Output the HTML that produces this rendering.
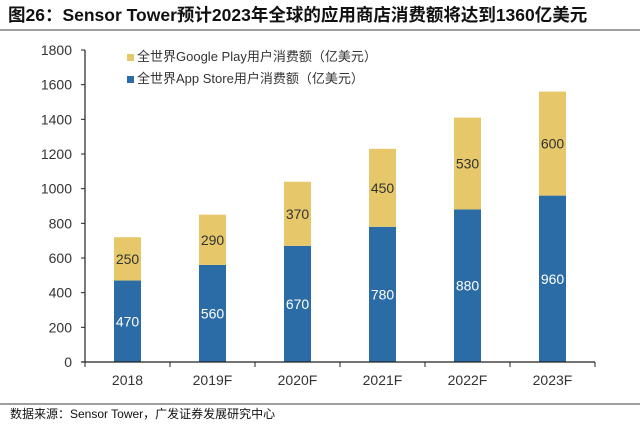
<!DOCTYPE html>
<html><head><meta charset="utf-8"><style>
html,body{margin:0;padding:0;background:#fff;}
svg{display:block;font-family:"Liberation Sans","Noto Sans CJK SC",sans-serif;}
</style></head><body>
<svg id="chart" width="640" height="430">
<text x="8" y="21" font-size="17.5" font-weight="bold" fill="#111">图26：Sensor Tower预计2023年全球的应用商店消费额将达到1360亿美元</text>
<line x1="0" y1="30" x2="640" y2="30" stroke="#666" stroke-width="1.2"/>
<g>
<rect x="127" y="54" width="7" height="7" fill="#e6c86a"/>
<text x="137" y="61" font-size="13" fill="#333">全世界Google Play用户消费额（亿美元）</text>
<rect x="127" y="76" width="7" height="7" fill="#2c6ca6"/>
<text x="137" y="83" font-size="13" fill="#333">全世界App Store用户消费额（亿美元）</text>
</g>
<g id="plot"></g>
<line x1="0" y1="404" x2="640" y2="404" stroke="#666" stroke-width="1.2"/>
<text x="10" y="418" font-size="12" fill="#111">数据来源：Sensor Tower，广发证券发展研究中心</text>
</svg>
<script>
const categories=["2018","2019F","2020F","2021F","2022F","2023F"];
const appStore=[470,560,670,780,880,960];
const googlePlay=[250,290,370,450,530,600];
const yTicks=[0,200,400,600,800,1000,1200,1400,1600,1800];
const NS="http://www.w3.org/2000/svg";
const g=document.getElementById("plot");
const x0=85,x1=595,y0=362,y1=50,ymax=1800;
const y=v=>y0-(v/ymax)*(y0-y1);
const bw=(x1-x0)/categories.length;
const xc=i=>x0+bw*(i+0.5);
function mk(t,a){const e=document.createElementNS(NS,t);for(const k in a)e.setAttribute(k,a[k]);g.appendChild(e);return e;}
let ax=mk("line",{x1:x0,y1:y1,x2:x0,y2:y0,stroke:"#222","stroke-width":1.2});


yTicks.forEach(v=>{
 let t=mk("line",{x1:x0-4,y1:y(v),x2:x0,y2:y(v),stroke:"#222"});
 
 
 let l=mk("text",{x:x0-13,y:y(v)+5,"font-size":14,"text-anchor":"end",fill:"#333"});
 l.textContent=v;
 
 
});
categories.forEach((c,i)=>{
 const w=27,cx=xc(i);
 let b=mk("rect",{x:cx-w/2,y:y(appStore[i]),width:w,height:y0-y(appStore[i]),fill:"#2c6ca6"});
 
 
 let top=appStore[i]+googlePlay[i];
 let b2=mk("rect",{x:cx-w/2,y:y(top),width:w,height:y(appStore[i])-y(top),fill:"#e6c86a"});
 
 
 let t1=mk("text",{x:cx,y:(y(appStore[i])+y0)/2+5,"font-size":14,"text-anchor":"middle",fill:"#fff"});
 t1.textContent=appStore[i];
 
 
 let t2=mk("text",{x:cx,y:(y(top)+y(appStore[i]))/2+5,"font-size":14,"text-anchor":"middle",fill:"#333"});
 t2.textContent=googlePlay[i];
 
 
 let xl=mk("text",{x:cx,y:y0+23,"font-size":14,"text-anchor":"middle",fill:"#333"});
 xl.textContent=c;
 
 
});
for(let i=0;i<=categories.length;i++){
 let t=mk("line",{x1:x0+bw*i,y1:y0,x2:x0+bw*i,y2:y0+5,stroke:"#222"});
 
 
}
let xa=mk("line",{x1:x0-4,y1:y0,x2:x1,y2:y0,stroke:"#222","stroke-width":1.2});


</script>
</body></html>
